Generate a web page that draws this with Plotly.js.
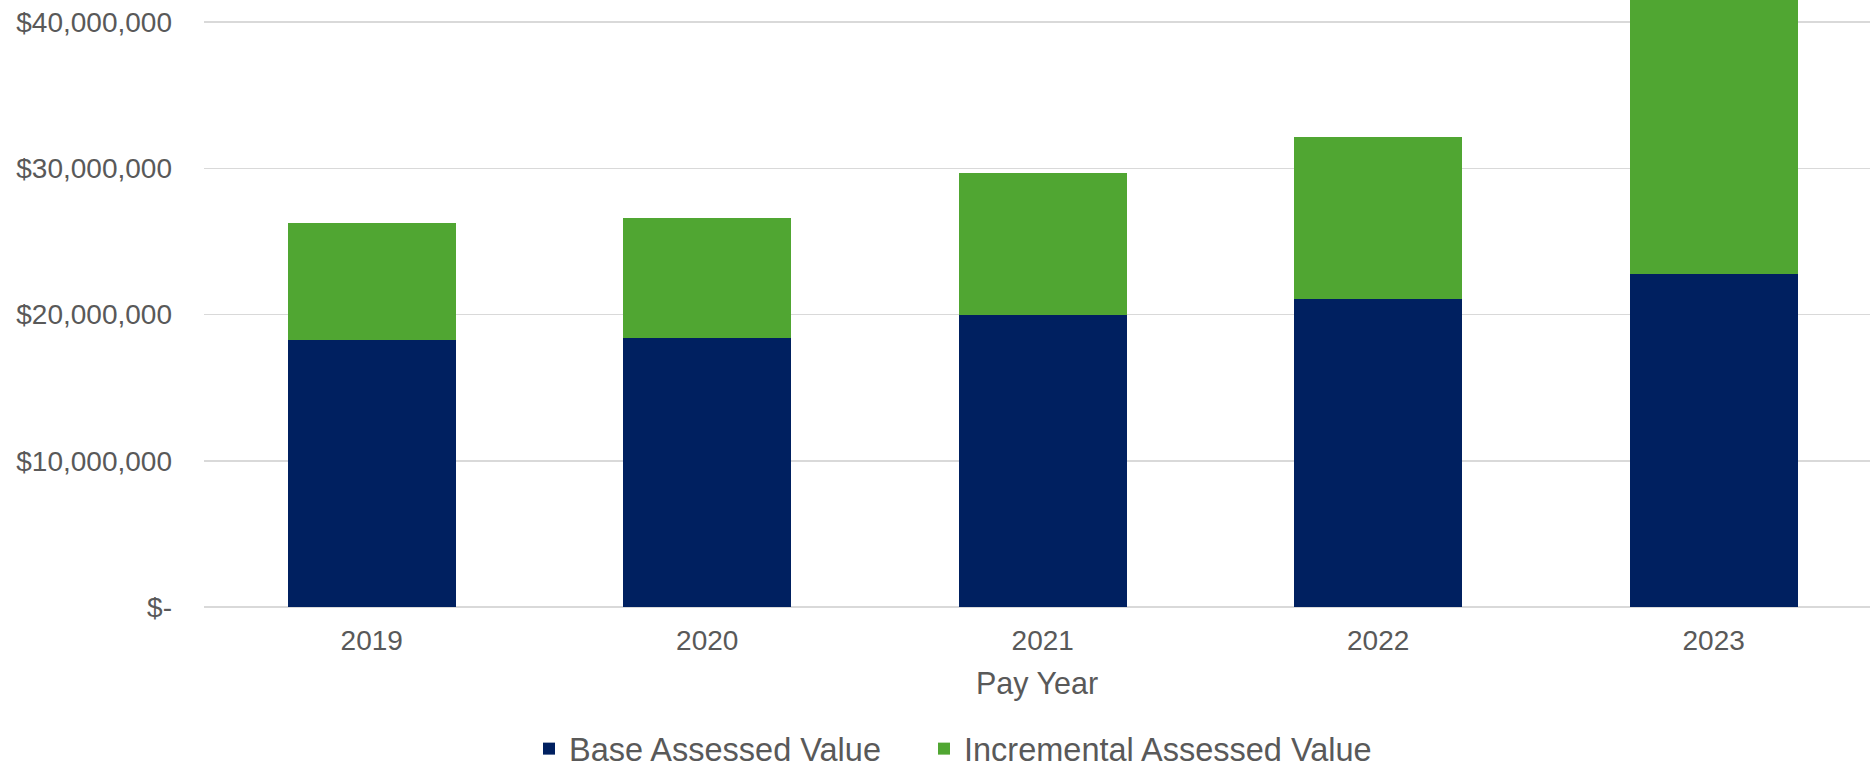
<!DOCTYPE html>
<html>
<head>
<meta charset="utf-8">
<script src="https://cdn.plot.ly/plotly-3.0.1.min.js"></script>
<style>
html,body{margin:0;padding:0;background:#fff;}
#chart{width:1870px;height:777px;}
</style>
</head>
<body>
<div id="chart"></div>
<script>
const years = ["2019", "2020", "2021", "2022", "2023"];
const baseValues = [18240000, 18400000, 19980000, 21050000, 22780000];
const incrementalValues = [8050000, 8230000, 9730000, 11100000, 21200000];
const yTickValues = [0, 10000000, 20000000, 30000000, 40000000];
const yTickLabels = ["$-", "$10,000,000", "$20,000,000", "$30,000,000", "$40,000,000"];
const seriesNames = ["Base Assessed Value", "Incremental Assessed Value"];

const textColor = "#595959";
const font = "Liberation Sans, Arial, sans-serif";

const data = [
  {
    type: "bar",
    name: seriesNames[0],
    x: years,
    y: baseValues,
    marker: {color: "#002060", line: {width: 0}},
    legend: "legend",
    hoverinfo: "skip"
  },
  {
    type: "bar",
    name: seriesNames[1],
    x: years,
    y: incrementalValues,
    marker: {color: "#50a632", line: {width: 0}},
    legend: "legend2",
    hoverinfo: "skip"
  }
];

function legendAt(xPx) {
  return {
    orientation: "h",
    xref: "container",
    yref: "container",
    x: xPx / 1870,
    xanchor: "left",
    y: 0,
    yanchor: "bottom",
    font: {family: font, size: 32.5, color: textColor},
    itemwidth: 30,
    itemsizing: "constant",
    bgcolor: "rgba(0,0,0,0)"
  };
}

const layout = {
  width: 1870,
  height: 777,
  margin: {l: 204, r: 0, t: 0, b: 170, pad: 0},
  barmode: "stack",
  bargap: 0.5,
  paper_bgcolor: "#ffffff",
  plot_bgcolor: "#ffffff",
  font: {family: font, color: textColor, size: 28},
  showlegend: true,
  legend: legendAt(529),
  legend2: legendAt(924),
  xaxis: {
    type: "category",
    range: [-0.5, 4.466],
    showgrid: false,
    zeroline: false,
    showline: false,
    ticks: "",
    ticklabelstandoff: 14,
    tickfont: {family: font, size: 28, color: textColor},
    title: {text: "Pay Year", font: {family: font, size: 30.5, color: textColor}, standoff: 17},
    fixedrange: true
  },
  yaxis: {
    range: [0, 41520000],
    tickvals: yTickValues,
    ticktext: yTickLabels,
    showgrid: true,
    gridcolor: "#d9d9d9",
    gridwidth: 1.5,
    zeroline: true,
    zerolinecolor: "#d9d9d9",
    zerolinewidth: 1.5,
    showline: false,
    ticks: "",
    ticklabelstandoff: 31,
    tickfont: {family: font, size: 28, color: textColor},
    fixedrange: true
  }
};

Plotly.newPlot("chart", data, layout, {displayModeBar: false, staticPlot: true});
</script>
</body>
</html>
